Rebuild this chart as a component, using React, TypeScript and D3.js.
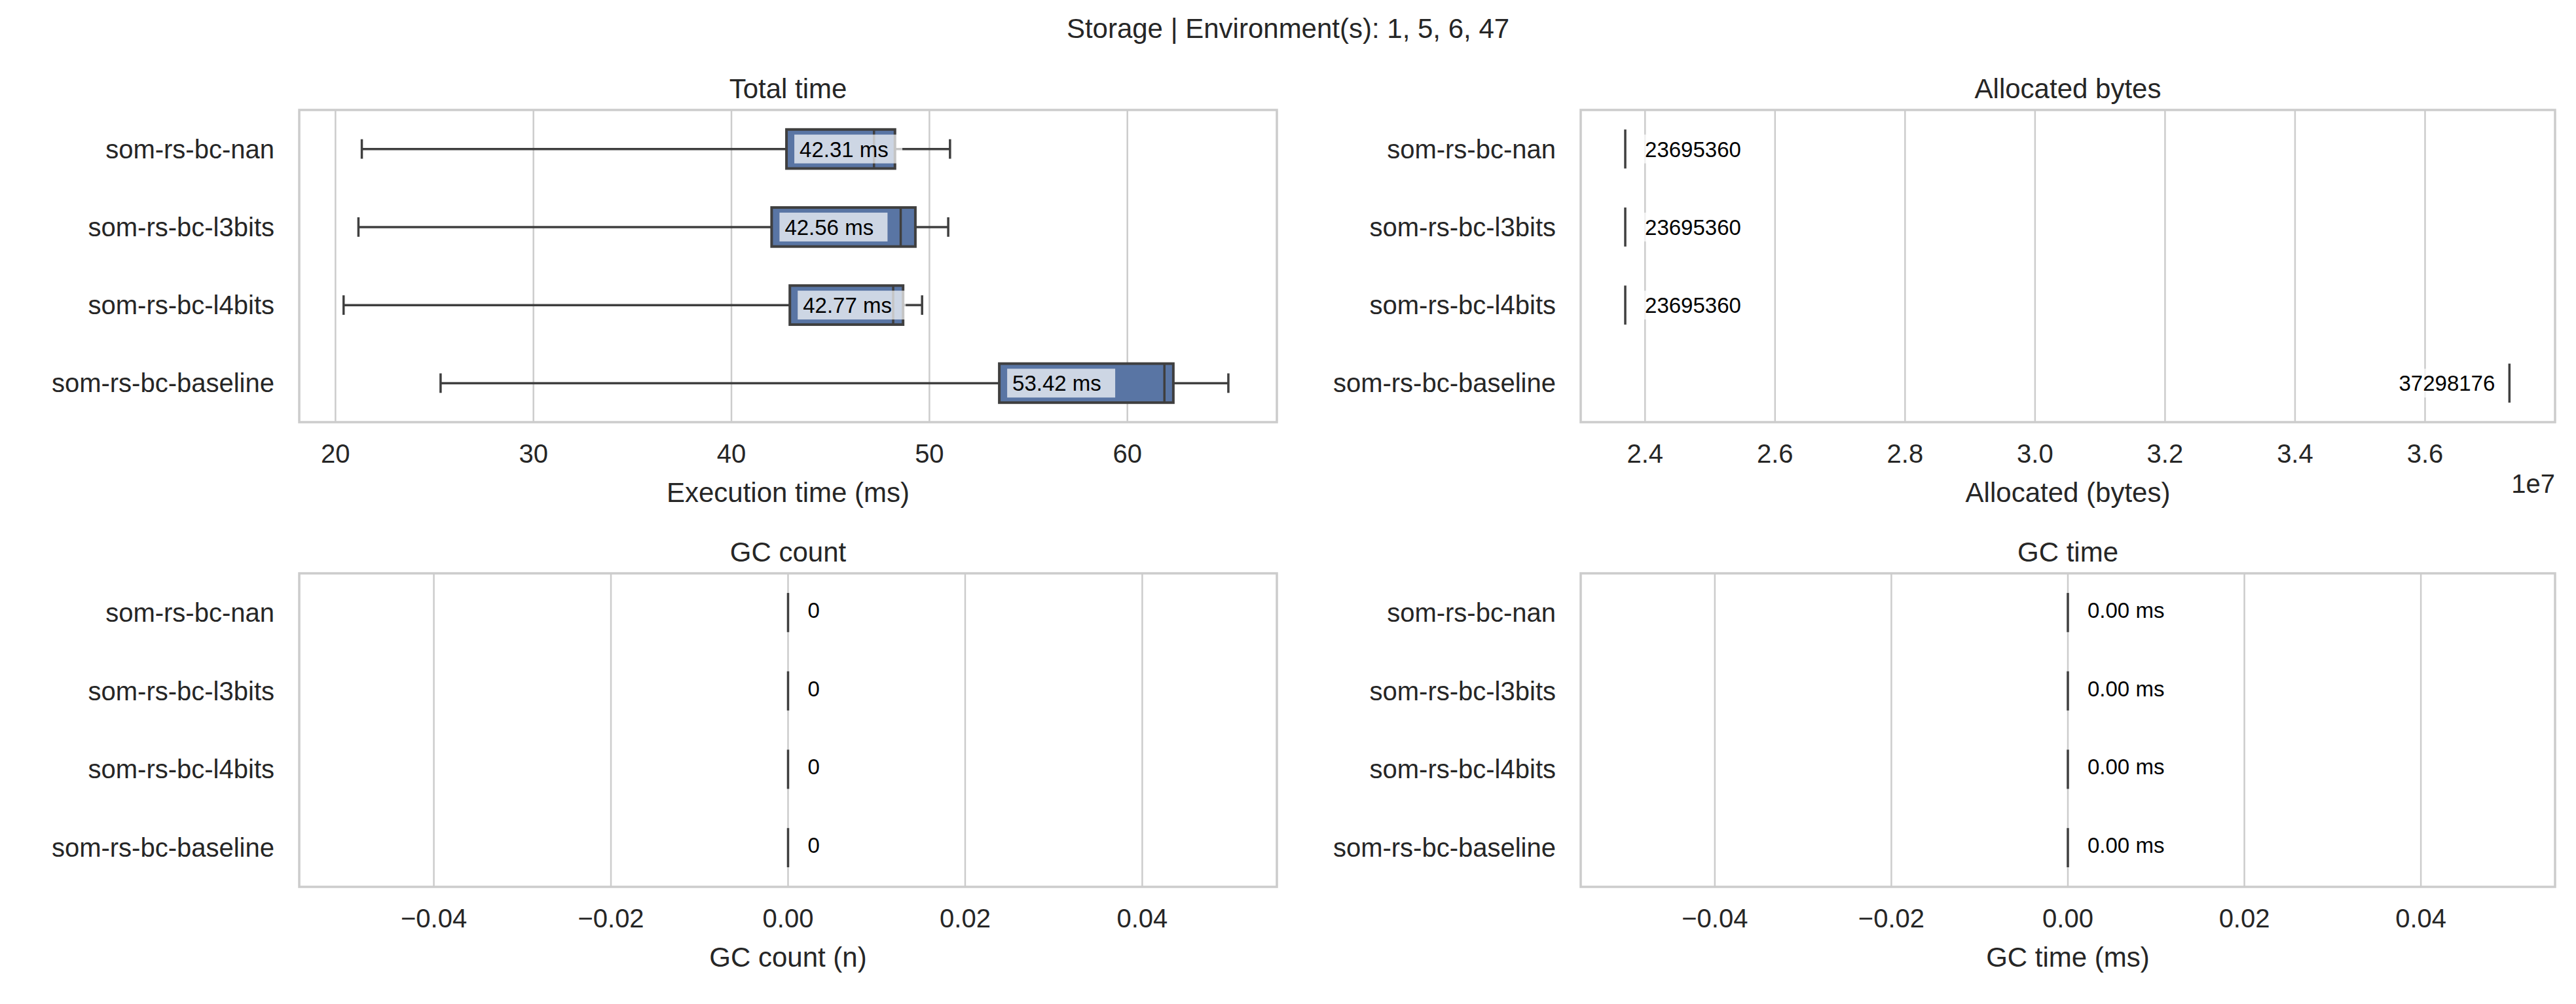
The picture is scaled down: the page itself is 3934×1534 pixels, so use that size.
import * as d3 from 'd3';

const categories = ['som-rs-bc-nan', 'som-rs-bc-l3bits', 'som-rs-bc-l4bits', 'som-rs-bc-baseline'];

// Total time box stats (ms)
const whiskLo = [21.33, 21.16, 20.41, 25.31];
const q1 = [42.78, 42.03, 42.95, 53.53];
const median = [47.2, 48.55, 48.17, 61.87];
const q3 = [48.26, 49.29, 48.67, 62.32];
const whiskHi = [51.04, 50.95, 49.63, 65.1];
const timeLabels = ['42.31 ms', '42.56 ms', '42.77 ms', '53.42 ms'];

const allocated = [23695360, 23695360, 23695360, 37298176];
const gcCount = [0, 0, 0, 0];
const gcTime = [0, 0, 0, 0];

const timeTicks = [20, 30, 40, 50, 60];
const allocTicks = [2.4e7, 2.6e7, 2.8e7, 3.0e7, 3.2e7, 3.4e7, 3.6e7];
const zeroTicks = [-0.04, -0.02, 0, 0.02, 0.04];

const FONT = '"Liberation Sans", Arial, sans-serif';
const TXT = '#262626';
const GRID = '#cccccc';
const BOX = '#5975a4';
const EDGE = '#3f3f3f';

type PanelProps = {
  x0: number; y0: number; w: number; h: number;
  title: string; xlabel: string;
  domain: [number, number]; ticks: number[]; tickFmt: (v: number) => string;
  children: (x: d3.ScaleLinear<number, number>, y: d3.ScaleBand<string>) => any;
  offsetText?: string;
};

function Panel({ x0, y0, w, h, title, xlabel, domain, ticks, tickFmt, children, offsetText }: PanelProps) {
  const x = d3.scaleLinear().domain(domain).range([x0, x0 + w]);
  const y = d3.scaleBand<string>().domain(categories).range([y0, y0 + h]);
  return (
    <g>
      {ticks.map(t => (
        <line key={t} x1={x(t)} x2={x(t)} y1={y0} y2={y0 + h} stroke={GRID} strokeWidth={2.5} />
      ))}
      {children(x, y)}
      <rect x={x0} y={y0} width={w} height={h} fill="none" stroke={GRID} strokeWidth={3.5} />
      <text x={x0 + w / 2} y={y0 - 18} textAnchor="middle" fontSize={42} fill={TXT}>{title}</text>
      {ticks.map(t => (
        <text key={t} x={x(t)} y={y0 + h + 62} textAnchor="middle" fontSize={40} fill={TXT}>{tickFmt(t)}</text>
      ))}
      <text x={x0 + w / 2} y={y0 + h + 122} textAnchor="middle" fontSize={42} fill={TXT}>{xlabel}</text>
      {offsetText && (
        <text x={x0 + w} y={y0 + h + 108} textAnchor="end" fontSize={40} fill={TXT}>{offsetText}</text>
      )}
      {categories.map(c => (
        <text key={c} x={x0 - 38} y={y(c)! + y.bandwidth() / 2 + 14} textAnchor="end" fontSize={40} fill={TXT}>{c}</text>
      ))}
    </g>
  );
}

const minusFmt = (v: number) => (v < 0 ? '\u2212' : '') + Math.abs(v).toFixed(2);

export default function App() {
  const L = { x0: 457, w: 1493 };
  const R = { x0: 2414, w: 1488 };
  const T = { y0: 168, h: 477 };
  const B = { y0: 876, h: 479 };
  return (
    <svg width={3934} height={1534} style={{ position: 'absolute', left: 0, top: 0, background: '#fff' }} fontFamily={FONT}>
      <rect width={3934} height={1534} fill="#fff" />
      <text x={1967} y={58} textAnchor="middle" fontSize={42} fill={TXT}>Storage | Environment(s): 1, 5, 6, 47</text>

      <Panel {...L} {...T} title="Total time" xlabel="Execution time (ms)" domain={[18.17, 67.55]} ticks={timeTicks} tickFmt={v => String(v)}>
        {(x, y) => categories.map((c, i) => {
          const cy = y(c)! + y.bandwidth() / 2;
          const bh = y.bandwidth() * 0.5;
          return (
            <g key={c}>
              <line x1={x(whiskLo[i])} x2={x(q1[i])} y1={cy} y2={cy} stroke={EDGE} strokeWidth={3.5} />
              <line x1={x(q3[i])} x2={x(whiskHi[i])} y1={cy} y2={cy} stroke={EDGE} strokeWidth={3.5} />
              <line x1={x(whiskLo[i])} x2={x(whiskLo[i])} y1={cy - bh / 4} y2={cy + bh / 4} stroke={EDGE} strokeWidth={3.5} />
              <line x1={x(whiskHi[i])} x2={x(whiskHi[i])} y1={cy - bh / 4} y2={cy + bh / 4} stroke={EDGE} strokeWidth={3.5} />
              <rect x={x(q1[i])} y={cy - bh / 2} width={x(q3[i]) - x(q1[i])} height={bh} fill={BOX} stroke={EDGE} strokeWidth={4} />
              <line x1={x(median[i])} x2={x(median[i])} y1={cy - bh / 2} y2={cy + bh / 2} stroke={EDGE} strokeWidth={3.5} />
              <rect x={x(q1[i]) + 12} y={cy - 22} width={165} height={44} fill="#ffffff" fillOpacity={0.7} />
              <text x={x(q1[i]) + 20} y={cy + 12} fontSize={33} fill="#000">{timeLabels[i]}</text>
            </g>
          );
        })}
      </Panel>

      <Panel {...R} {...T} title="Allocated bytes" xlabel="Allocated (bytes)" domain={[2.301e7, 3.80e7]} ticks={allocTicks} tickFmt={v => (v / 1e7).toFixed(1)} offsetText="1e7">
        {(x, y) => categories.map((c, i) => {
          const cy = y(c)! + y.bandwidth() / 2;
          const bh = y.bandwidth() * 0.5;
          const nearEnd = allocated[i] > 3.5e7;
          return (
            <g key={c}>
              <line x1={x(allocated[i])} x2={x(allocated[i])} y1={cy - bh / 2} y2={cy + bh / 2} stroke={EDGE} strokeWidth={3.5} />
              <rect x={nearEnd ? x(allocated[i]) - 175 : x(allocated[i]) + 12} y={cy - 22} width={160} height={44} fill="#fff" fillOpacity={0.7} />
              <text x={nearEnd ? x(allocated[i]) - 22 : x(allocated[i]) + 30} y={cy + 12} textAnchor={nearEnd ? 'end' : 'start'} fontSize={33} fill="#000">{allocated[i]}</text>
            </g>
          );
        })}
      </Panel>

      <Panel {...L} {...B} title="GC count" xlabel="GC count (n)" domain={[-0.0552, 0.0552]} ticks={zeroTicks} tickFmt={minusFmt}>
        {(x, y) => categories.map((c, i) => {
          const cy = y(c)! + y.bandwidth() / 2;
          const bh = y.bandwidth() * 0.5;
          return (
            <g key={c}>
              <line x1={x(gcCount[i])} x2={x(gcCount[i])} y1={cy - bh / 2} y2={cy + bh / 2} stroke={EDGE} strokeWidth={3.5} />
              <text x={x(gcCount[i]) + 30} y={cy + 8} fontSize={33} fill="#000">{gcCount[i]}</text>
            </g>
          );
        })}
      </Panel>

      <Panel {...R} {...B} title="GC time" xlabel="GC time (ms)" domain={[-0.0552, 0.0552]} ticks={zeroTicks} tickFmt={minusFmt}>
        {(x, y) => categories.map((c, i) => {
          const cy = y(c)! + y.bandwidth() / 2;
          const bh = y.bandwidth() * 0.5;
          return (
            <g key={c}>
              <line x1={x(gcTime[i])} x2={x(gcTime[i])} y1={cy - bh / 2} y2={cy + bh / 2} stroke={EDGE} strokeWidth={3.5} />
              <text x={x(gcTime[i]) + 30} y={cy + 8} fontSize={33} fill="#000">{gcTime[i].toFixed(2)} ms</text>
            </g>
          );
        })}
      </Panel>
    </svg>
  );
}
